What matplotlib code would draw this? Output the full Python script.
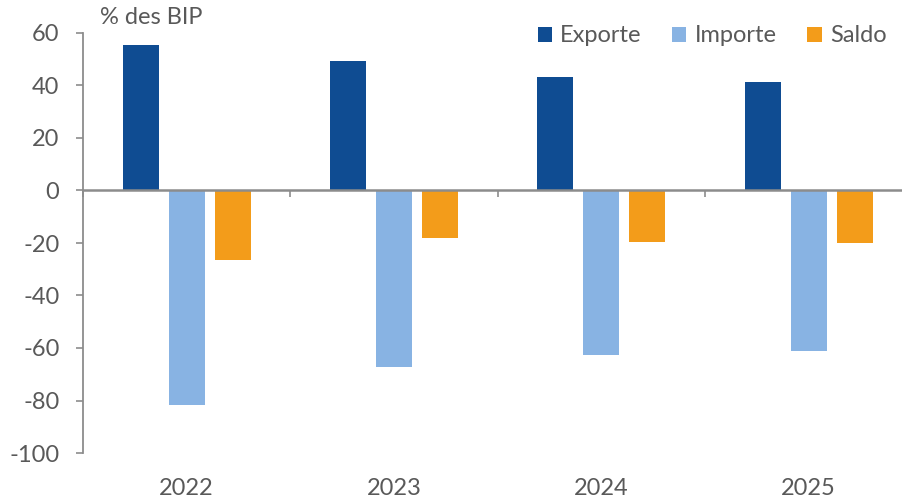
import matplotlib
matplotlib.use("Agg")
import matplotlib.pyplot as plt
from matplotlib.patches import Patch
import numpy as np

years = ["2022", "2023", "2024", "2025"]
exporte = [55.4, 49.3, 43.2, 41.3]
importe = [-81.7, -67.3, -62.8, -61.0]
saldo = [-26.4, -18.0, -19.7, -19.9]
series_names = ["Exporte", "Importe", "Saldo"]
colors = ["#0F4C92", "#88B3E3", "#F39C1A"]
yticks = [60, 40, 20, 0, -20, -40, -60, -80, -100]

plt.rcParams['font.family'] = ['Lato', 'DejaVu Sans']
gray = "#595959"
axis_gray = "#8C8C8C"
fs = 17

W, H = 902, 498
fig = plt.figure(figsize=(W/100, H/100), dpi=100)
left = 83/W
right = 912.3/W
bottom = (H-453)/H
top = (H-33)/H
ax = fig.add_axes([left, bottom, right-left, top-bottom])

x = np.arange(len(years))
bw = 36/207.3
step = 46/207.3
for i, (vals, c) in enumerate(zip([exporte, importe, saldo], colors)):
    ax.bar(x + (i-1)*step, vals, width=bw, color=c, zorder=2)

ax.set_xlim(-0.5, len(years)-0.5)
ax.set_ylim(-100, 60)
ax.set_yticks(yticks)
ax.set_yticklabels([str(v) for v in yticks])
ax.tick_params(axis='y', direction='out', length=5, width=1.2, color=axis_gray,
               labelcolor=gray, labelsize=fs, pad=12)

ax.spines['top'].set_visible(False)
ax.spines['right'].set_visible(False)
ax.spines['left'].set_color(axis_gray)
ax.spines['left'].set_linewidth(1.3)
ax.spines['bottom'].set_position(('data', 0))
ax.spines['bottom'].set_color(axis_gray)
ax.spines['bottom'].set_linewidth(1.8)
ax.spines['bottom'].set_zorder(3)

ax.set_xticks(np.arange(-0.5, len(years)+0.5, 1))
ax.set_xticklabels([])
ax.tick_params(axis='x', direction='out', length=5, width=1.2, color=axis_gray)

for xi, lab in zip(x, years):
    ax.text(xi, -113.5, lab, ha='center', va='center', color=gray, fontsize=fs, clip_on=False)

fig.text(100/W, 1-18/H, "% des BIP", ha='left', va='center', color=gray, fontsize=fs)

handles = [Patch(facecolor=c, edgecolor='none') for c in colors]
leg = fig.legend(handles, series_names, loc='center', bbox_to_anchor=(712/W, 1-36/H),
                 ncol=3, frameon=False, fontsize=fs, labelcolor=gray,
                 handlelength=0.6, handleheight=0.6, handletextpad=0.35, columnspacing=1.3)

fig.savefig("out.png", dpi=100)
